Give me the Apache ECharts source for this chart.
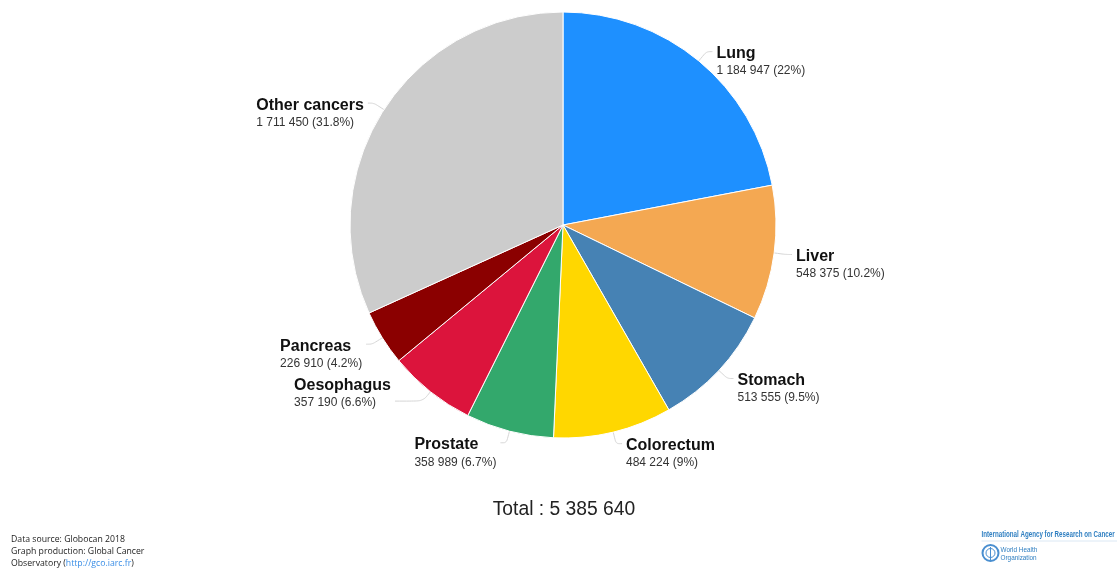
<!DOCTYPE html>
<html>
<head>
<meta charset="utf-8">
<style>
  html, body { margin: 0; padding: 0; background: #fff; }
  #chart { width: 1117px; height: 569px; }
</style>
<script src="https://cdn.jsdelivr.net/npm/echarts@6/dist/echarts.min.js"></script>
</head>
<body>
<div id="chart"></div>
<script>
// Cancer deaths by site, both sexes, all ages (Globocan 2018)
const sites = ['Lung', 'Liver', 'Stomach', 'Colorectum', 'Prostate', 'Oesophagus', 'Pancreas', 'Other cancers'];
const deaths = [1184947, 548375, 513555, 484224, 358989, 357190, 226910, 1711450];
const siteColors = ['#1e90ff', '#f4a852', '#4682b4', '#ffd700', '#33a86c', '#dc143c', '#8b0000', '#cccccc'];

const total = deaths.reduce((a, b) => a + b, 0);

// "1184947" -> "1 184 947"
function spaced(n) {
  return String(n).replace(/\B(?=(\d{3})+(?!\d))/g, ' ');
}
function pct(v) {
  const p = Math.round(v / total * 1000) / 10;
  return (p % 1 === 0 ? p.toFixed(0) : p.toFixed(1)) + '%';
}

const pieData = sites.map((name, i) => {
  const item = { name: name, value: deaths[i], itemStyle: { color: siteColors[i] } };
  if (name === 'Oesophagus') {
    // crowded corner: lift this label above its leader line and pull it outward
    item.label = { padding: [0, 0, 16, 0] };
    item.labelLine = { length2: 28 };
  }
  return item;
});

const chart = echarts.init(document.getElementById('chart'), null, { renderer: 'canvas' });

chart.setOption({
  backgroundColor: '#ffffff',
  animation: false,
  series: [{
    type: 'pie',
    center: [563, 225],
    radius: 213,
    startAngle: 90,
    clockwise: true,
    data: pieData,
    itemStyle: { borderColor: '#ffffff', borderWidth: 1 },
    label: {
      show: true,
      position: 'outer',
      distanceToLabelLine: 4,
      // top padding keeps the leader line level with the site name
      padding: [20, 0, 0, 0],
      formatter: p => '{n|' + p.name + '}\n{v|' + spaced(p.value) + ' (' + pct(p.value) + ')}',
      rich: {
        n: { fontFamily: 'Liberation Sans, Arial, sans-serif', fontSize: 16, fontWeight: 'bold', color: '#111', lineHeight: 19, align: 'left' },
        v: { fontFamily: 'Liberation Sans, Arial, sans-serif', fontSize: 12, color: '#333', lineHeight: 16, align: 'left' }
      }
    },
    labelLine: {
      show: true,
      length: 12,
      length2: 6,
      smooth: 0.3,
      lineStyle: { color: '#d6d6d6', width: 1 }
    },
    emphasis: { disabled: true }
  }],
  graphic: [
    {
      type: 'text',
      x: 564,
      y: 500,
      style: {
        text: 'Total : ' + spaced(total),
        font: '19.3px "Liberation Sans", Arial, sans-serif',
        fill: '#222',
        align: 'center'
      }
    },
    {
      type: 'text',
      left: 11,
      top: 535,
      style: {
        text: '{t|Data source: Globocan 2018}\n{t|Graph production: Global Cancer}\n{t|Observatory (}{l|http://gco.iarc.fr}{t|)}',
        rich: {
          t: { fontFamily: 'Open Sans, sans-serif', fontSize: 8.7, lineHeight: 12, fill: '#222' },
          l: { fontFamily: 'Open Sans, sans-serif', fontSize: 8.7, lineHeight: 12, fill: '#3a8ee6' }
        }
      }
    },
    {
      type: 'group',
      left: 979,
      top: 530,
      children: [
        {
          type: 'text',
          x: 0, y: 0,
          scaleX: 0.73,
          style: {
            text: 'International Agency for Research on Cancer',
            font: 'bold 8.5px "Liberation Sans", Arial, sans-serif',
            fill: '#2f7fc1'
          }
        },
        {
          type: 'line',
          shape: { x1: 0, y1: 11, x2: 136, y2: 11 },
          style: { stroke: '#dbe8f4', lineWidth: 1 }
        },
        {
          type: 'circle',
          shape: { cx: 9, cy: 23, r: 8 },
          style: { fill: '#ffffff', stroke: '#4a8fd0', lineWidth: 2 }
        },
        {
          type: 'circle',
          shape: { cx: 9, cy: 23, r: 4.5 },
          style: { fill: '#ffffff', stroke: '#4a8fd0', lineWidth: 1 }
        },
        {
          type: 'line',
          shape: { x1: 9, y1: 17, x2: 9, y2: 30 },
          style: { stroke: '#4a8fd0', lineWidth: 1 }
        },
        {
          type: 'text',
          x: 19, y: 16,
          scaleX: 0.85,
          style: {
            text: 'World Health\nOrganization',
            font: '7.5px "Liberation Sans", Arial, sans-serif',
            lineHeight: 8,
            fill: '#2f7fc1'
          }
        }
      ]
    }
  ]
});
</script>
</body>
</html>
